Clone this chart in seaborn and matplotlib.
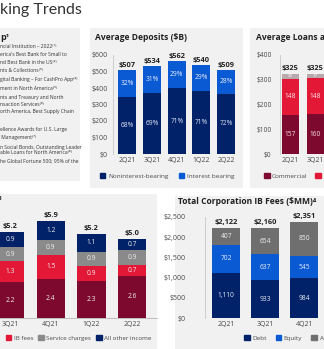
import matplotlib
matplotlib.use('Agg')
import matplotlib.pyplot as plt
import seaborn as sns
import numpy as np
import pandas as pd
from matplotlib.patches import Rectangle, Patch

# ---------------- data ----------------
dep_quarters = ['2Q21', '3Q21', '4Q21', '1Q22', '2Q22']
dep_totals = [507, 534, 562, 540, 509]
dep_nonint_pct = [68, 69, 71, 71, 72]
dep_int_pct = [32, 31, 29, 29, 28]
dep_ticks = [0, 100, 200, 300, 400, 500, 600]

loan_quarters = ['2Q21', '3Q21']
loan_totals = [325, 325]
loan_commercial = [157, 160]
loan_corporate = [148, 148]
loan_other = [20, 17]
loan_ticks = [0, 100, 200, 300, 400]

rev_quarters = ['3Q21', '4Q21', '1Q22', '2Q22']
rev_total_labels = ['$5.2', '$5.9', '$5.2', '$5.0']
rev_nii = [2.2, 2.4, 2.3, 2.6]
rev_ib = [1.3, 1.5, 0.9, 0.7]
rev_svc = [0.9, 0.9, 0.9, 0.9]
rev_other = [0.9, 1.2, 1.1, 0.7]

ib_quarters = ['2Q21', '3Q21', '4Q21']
ib_totals = [2122, 2160, 2351]
ib_debt = [1110, 933, 984]
ib_equity = [702, 637, 545]
ib_advisory = [407, 654, 850]
ib_ticks = [0, 500, 1000, 1500, 2000, 2500]

award_lines = [
    "ncial Institution \u2013 2022\u207d\u00b9\u207e",
    "erica's Best Bank for Small to",
    "nd Best Bank in the US\u207d\u00b2\u207e",
    "nts & Collections\u207d\u00b3\u207e",
    "gital Banking \u2013 For CashPro App\u207d\u2074\u207e",
    "ment in North America\u207d\u2075\u207e",
    "nts and Treasury and North",
    "nsaction Services\u207d\u2076\u207e",
    "orth America, Best Supply Chain",
    "ellence Awards for U.S. Large",
    " Management\u207d\u2077\u207e",
    "n Social Bonds, Outstanding Leader",
    "able Loans for North America\u207d\u2078\u207e",
    "he Global Fortune 500; 95% of the",
]
award_y = [47, 55, 62, 71, 80, 88, 98, 104, 112, 130, 137, 147, 153, 161]

# ---------------- style ----------------
NAVY = '#012169'
BLUE = '#0a5ad4'
MAROON = '#7d0a2e'
RED = '#e31837'
GRAY = '#8a8a8a'
DGRAY = '#6f6f6f'
PANEL = '#f1f1f1'
TXT = '#4a4a4a'

W, H = 324, 349
sns.set_theme(style='white')
plt.rcParams['font.family'] = ['Open Sans', 'DejaVu Sans']

fig = plt.figure(figsize=(W / 100, H / 100), dpi=100)
fig.patch.set_facecolor('white')


def panel(x0, y0, x1, y1):
    fig.add_artist(Rectangle((x0 / W, 1 - y1 / H), (x1 - x0) / W, (y1 - y0) / H,
                             transform=fig.transFigure, facecolor=PANEL,
                             edgecolor='none', zorder=0))


def add_ax(x0, y0, x1, y1):
    ax = fig.add_axes([x0 / W, 1 - y1 / H, (x1 - x0) / W, (y1 - y0) / H])
    ax.set_facecolor('none')
    return ax


def ftext(x, y, s, **kw):
    fig.text(x / W, 1 - y / H, s, **kw)


def style_axes(ax, left_spine=True, bottom_spine=False):
    for side in ['top', 'right']:
        ax.spines[side].set_visible(False)
    ax.spines['left'].set_visible(left_spine)
    ax.spines['bottom'].set_visible(bottom_spine)
    ax.spines['left'].set_color('#c8c8c8')
    ax.spines['bottom'].set_color('#b5b5b5')
    ax.spines['left'].set_linewidth(0.6)
    ax.spines['bottom'].set_linewidth(0.6)
    ax.tick_params(length=0, labelsize=5, colors=TXT, pad=2)
    ax.set_xlabel('')
    ax.set_ylabel('')


def stacked(ax, cats, layers, colors, width):
    cum = np.zeros(len(cats))
    cums = []
    for vals in layers:
        cum = cum + np.array(vals, dtype=float)
        cums.append(cum.copy())
    for c, col in zip(reversed(cums), reversed(colors)):
        df = pd.DataFrame({'q': cats, 'v': c})
        sns.barplot(data=df, x='q', y='v', order=cats, color=col, width=width,
                    saturation=1, ax=ax, linewidth=0, errorbar=None)
    return cums


# ---------------- panels ----------------
panel(-5, 28, 80, 181)
panel(90, 28, 243, 188)
panel(250, 28, 330, 188)
panel(-5, 194, 157, 355)
panel(175, 196, 330, 355)

ftext(0, 10, 'king Trends', fontsize=11.5, color='#333333', va='center', ha='left',
      family=['Lato', 'DejaVu Sans'])

# ---------------- top left text ----------------
ftext(0, 37, 'p\u00b9', fontsize=6.5, fontweight='bold', color='#222222', va='center')
for s, y in zip(award_lines, award_y):
    ftext(0, y, s, fontsize=3.6, color='#333333', va='center')

# ---------------- Average Deposits ----------------
ftext(95, 38, 'Average Deposits ($B)', fontsize=6.1, fontweight='bold',
      color='#222222', va='center')
ax = add_ax(113, 55, 240, 154)
dep_non = [t * p / 100 for t, p in zip(dep_totals, dep_nonint_pct)]
dep_int = [t * p / 100 for t, p in zip(dep_totals, dep_int_pct)]
stacked(ax, dep_quarters, [dep_non, dep_int], [NAVY, BLUE], 0.73)
style_axes(ax)
ax.set_xlim(-0.58, 4.56)
ax.set_ylim(0, 600)
ax.set_yticks(dep_ticks)
ax.set_yticklabels([f'${v}' for v in dep_ticks])
ax.tick_params(axis='y', pad=4)
for i in range(len(dep_quarters)):
    ax.text(i, dep_non[i] / 2, f'{dep_nonint_pct[i]}%', ha='center', va='center',
            fontsize=4.8, color='#dfe6f5')
    ax.text(i, dep_non[i] + dep_int[i] / 2, f'{dep_int_pct[i]}%', ha='center',
            va='center', fontsize=4.8, color='#e8eefa')
    ax.text(i, dep_totals[i] + 8, f'${dep_totals[i]}', ha='center', va='bottom',
            fontsize=5.3, fontweight='bold', color='#222222')
fig.legend(handles=[Patch(color=NAVY), Patch(color=BLUE)],
           labels=['Noninterest-bearing', 'Interest bearing'],
           loc='center', bbox_to_anchor=(167 / W, 1 - 176 / H), ncol=2,
           frameon=False, fontsize=4.6, handlelength=0.9, handleheight=0.9,
           handletextpad=0.4, columnspacing=1.6, labelcolor=TXT)

# ---------------- Average Loans ----------------
ftext(256, 38, 'Average Loans and Leases ($B)', fontsize=6.1, fontweight='bold',
      color='#222222', va='center')
ax = add_ax(280, 55, 324, 154)
stacked(ax, loan_quarters, [loan_commercial, loan_corporate, loan_other],
        [MAROON, RED, '#b8a9ad'], 0.68)
style_axes(ax)
ax.set_xlim(-0.4, 1.36)
ax.set_ylim(0, 400)
ax.set_yticks(loan_ticks)
ax.set_yticklabels([f'${v}' for v in loan_ticks])
ax.tick_params(axis='y', pad=6, labelsize=4.8)
for i in range(len(loan_quarters)):
    ax.text(i, loan_commercial[i] / 2, f'{loan_commercial[i]}', ha='center',
            va='center', fontsize=4.8, color='#f3dbe1')
    ax.text(i, loan_commercial[i] + loan_corporate[i] / 2, f'{loan_corporate[i]}',
            ha='center', va='center', fontsize=4.8, color='#fbe3e7')
    ax.text(i, loan_commercial[i] + loan_corporate[i] + loan_other[i] / 2,
            f'{loan_other[i]}', ha='center', va='center', fontsize=3.2, color='white')
    ax.text(i, loan_totals[i] + 8, f'${loan_totals[i]}', ha='center', va='bottom',
            fontsize=5.3, fontweight='bold', color='#222222')
fig.legend(handles=[Patch(color=MAROON), Patch(color=RED)],
           labels=['Commercial', 'Corporate'],
           loc='center left', bbox_to_anchor=(258 / W, 1 - 176 / H), ncol=2,
           frameon=False, fontsize=4.6, handlelength=0.9, handleheight=0.9,
           handletextpad=0.4, columnspacing=1.2, labelcolor=TXT)

# ---------------- Bottom left: revenue ----------------
ftext(-2, 199, '3', fontsize=4.5, fontweight='bold', color='#222222', va='center')
ax = add_ax(0, 212.7, 157, 318)
cums = stacked(ax, rev_quarters, [rev_nii, rev_ib, rev_svc, rev_other],
               [MAROON, RED, GRAY, NAVY], 0.7)
style_axes(ax, left_spine=False, bottom_spine=True)
ax.set_yticks([])
ax.set_xlim(-0.25, 3.61)
ax.set_ylim(0, 6.5)
layers = [rev_nii, rev_ib, rev_svc, rev_other]
for i in range(len(rev_quarters)):
    base = 0.0
    for vals in layers:
        ax.text(i, base + vals[i] / 2, f'{vals[i]:.1f}', ha='center', va='center',
                fontsize=4.8, color='#eeeeee')
        base += vals[i]
    ax.text(i, base + 0.12, rev_total_labels[i], ha='center', va='bottom',
            fontsize=5.3, fontweight='bold', color='#222222')
fig.legend(handles=[Patch(color=RED), Patch(color=GRAY), Patch(color=NAVY)],
           labels=['IB fees', 'Service charges', 'All other income'],
           loc='center left', bbox_to_anchor=(0 / W, 1 - 338 / H), ncol=3,
           frameon=False, fontsize=4.5, handlelength=0.9, handleheight=0.9,
           handletextpad=0.4, columnspacing=0.8, labelcolor=TXT)

# ---------------- Bottom right: IB fees ----------------
ftext(178, 202, 'Total Corporation IB Fees ($MM)\u2074', fontsize=6.1,
      fontweight='bold', color='#222222', va='center')
ax = add_ax(205, 216.7, 324, 318.3)
stacked(ax, ib_quarters, [ib_debt, ib_equity, ib_advisory], [NAVY, BLUE, DGRAY], 0.72)
style_axes(ax)
ax.set_xlim(-0.54, 2.51)
ax.set_ylim(0, 2500)
ax.set_yticks(ib_ticks)
ax.set_yticklabels([f'${v:,}' for v in ib_ticks])
ax.tick_params(axis='y', pad=14)
for i in range(len(ib_quarters)):
    ax.text(i, ib_debt[i] / 2, f'{ib_debt[i]:,}', ha='center', va='center',
            fontsize=4.8, color='#e6ebf5')
    ax.text(i, ib_debt[i] + ib_equity[i] / 2, f'{ib_equity[i]:,}', ha='center',
            va='center', fontsize=4.8, color='#e6ebf5')
    ax.text(i, ib_debt[i] + ib_equity[i] + ib_advisory[i] / 2, f'{ib_advisory[i]:,}',
            ha='center', va='center', fontsize=4.8, color='#eeeeee')
    top = ib_debt[i] + ib_equity[i] + ib_advisory[i]
    ax.text(i, top + 50, f'${ib_totals[i]:,}', ha='center', va='bottom',
            fontsize=5.3, fontweight='bold', color='#222222')
fig.legend(handles=[Patch(color=NAVY), Patch(color=BLUE), Patch(color=DGRAY)],
           labels=['Debt', 'Equity', 'Advisory'],
           loc='center left', bbox_to_anchor=(238 / W, 1 - 338 / H), ncol=3,
           frameon=False, fontsize=4.6, handlelength=0.9, handleheight=0.9,
           handletextpad=0.4, columnspacing=1.4, labelcolor=TXT)

fig.savefig('out.png', dpi=100)
